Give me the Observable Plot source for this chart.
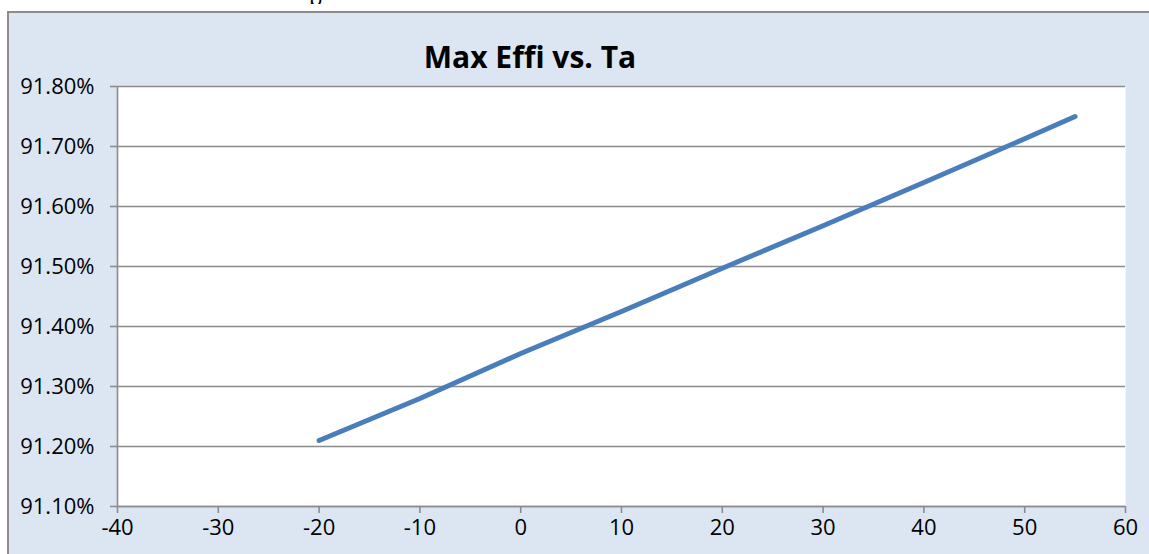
<!DOCTYPE html>
<html>
<head>
<meta charset="utf-8">
<script src="https://cdn.jsdelivr.net/npm/d3@7"></script>
<script src="https://cdn.jsdelivr.net/npm/@observablehq/plot@0.6"></script>
<style>
  html, body { margin: 0; padding: 0; background: #fff; }
  #wrap { position: relative; width: 1149px; height: 554px; overflow: hidden; font-family: "Open Sans", Lato, sans-serif; }
  #box { position: absolute; left: 7px; top: 11px; width: 1160px; height: 560px; background: #dce6f2; border-left: 2px solid #8c8c8c; border-top: 2px solid #8c8c8c; }
  #frag { position: absolute; left: 309px; top: -18px; height: 22px; overflow: hidden; font-size: 22px; color: #000; }
  #title { position: absolute; left: 0; width: 1060px; top: 36px; text-align: center; font-size: 30px; font-weight: 700; color: #000; }
  #chart { position: absolute; left: 0; top: 0; }
</style>
</head>
<body>
<div id="wrap">
  <div id="box"></div>
  <div id="frag">p</div>
  <div id="chart"></div>
  <div id="title">Max Effi vs. Ta</div>
</div>
<script>
const temperature = [-20, -10, 0, 10, 20, 30, 40, 50, 55];
const maxEffi = [91.21, 91.28, 91.355, 91.425, 91.497, 91.568, 91.64, 91.713, 91.75];
const xTicks = [-40, -30, -20, -10, 0, 10, 20, 30, 40, 50, 60];
const yTicks = [91.1, 91.2, 91.3, 91.4, 91.5, 91.6, 91.7, 91.8];

const data = temperature.map((t, i) => ({t, v: maxEffi[i]}));
const gray = "#8c8c8c";

const chart = Plot.plot({
  width: 1149,
  height: 554,
  marginLeft: 117,
  marginRight: 24,
  marginTop: 86,
  marginBottom: 48,
  style: {background: "transparent", fontFamily: "'Open Sans', Lato, sans-serif", fontSize: "23px", color: "#000"},
  x: {domain: [-40, 60], ticks: xTicks},
  y: {domain: [91.1, 91.8], ticks: yTicks},
  marks: [
    Plot.frame({fill: "white", stroke: null}),
    Plot.gridY(yTicks, {stroke: gray, strokeOpacity: 1, strokeWidth: 1.6}),
    Plot.ruleX([-40], {stroke: gray, strokeWidth: 1.6}),
    Plot.ruleY([91.1], {stroke: gray, strokeWidth: 1.6}),
    Plot.axisY(yTicks, {tickSize: 7, tickPadding: 16, stroke: gray, strokeWidth: 1.6, tickFormat: d => d.toFixed(2) + "%", fill: "#000", label: null, fontSize: 22}),
    Plot.axisX(xTicks, {tickSize: 7, tickPadding: 6, stroke: gray, strokeWidth: 1.6, tickFormat: d => String(d), fill: "#000", label: null, fontSize: 22}),
    Plot.line(data, {x: "t", y: "v", stroke: "#4a7ebb", strokeWidth: 5, strokeLinecap: "round"})
  ]
});
document.getElementById("chart").appendChild(chart);
</script>
</body>
</html>
